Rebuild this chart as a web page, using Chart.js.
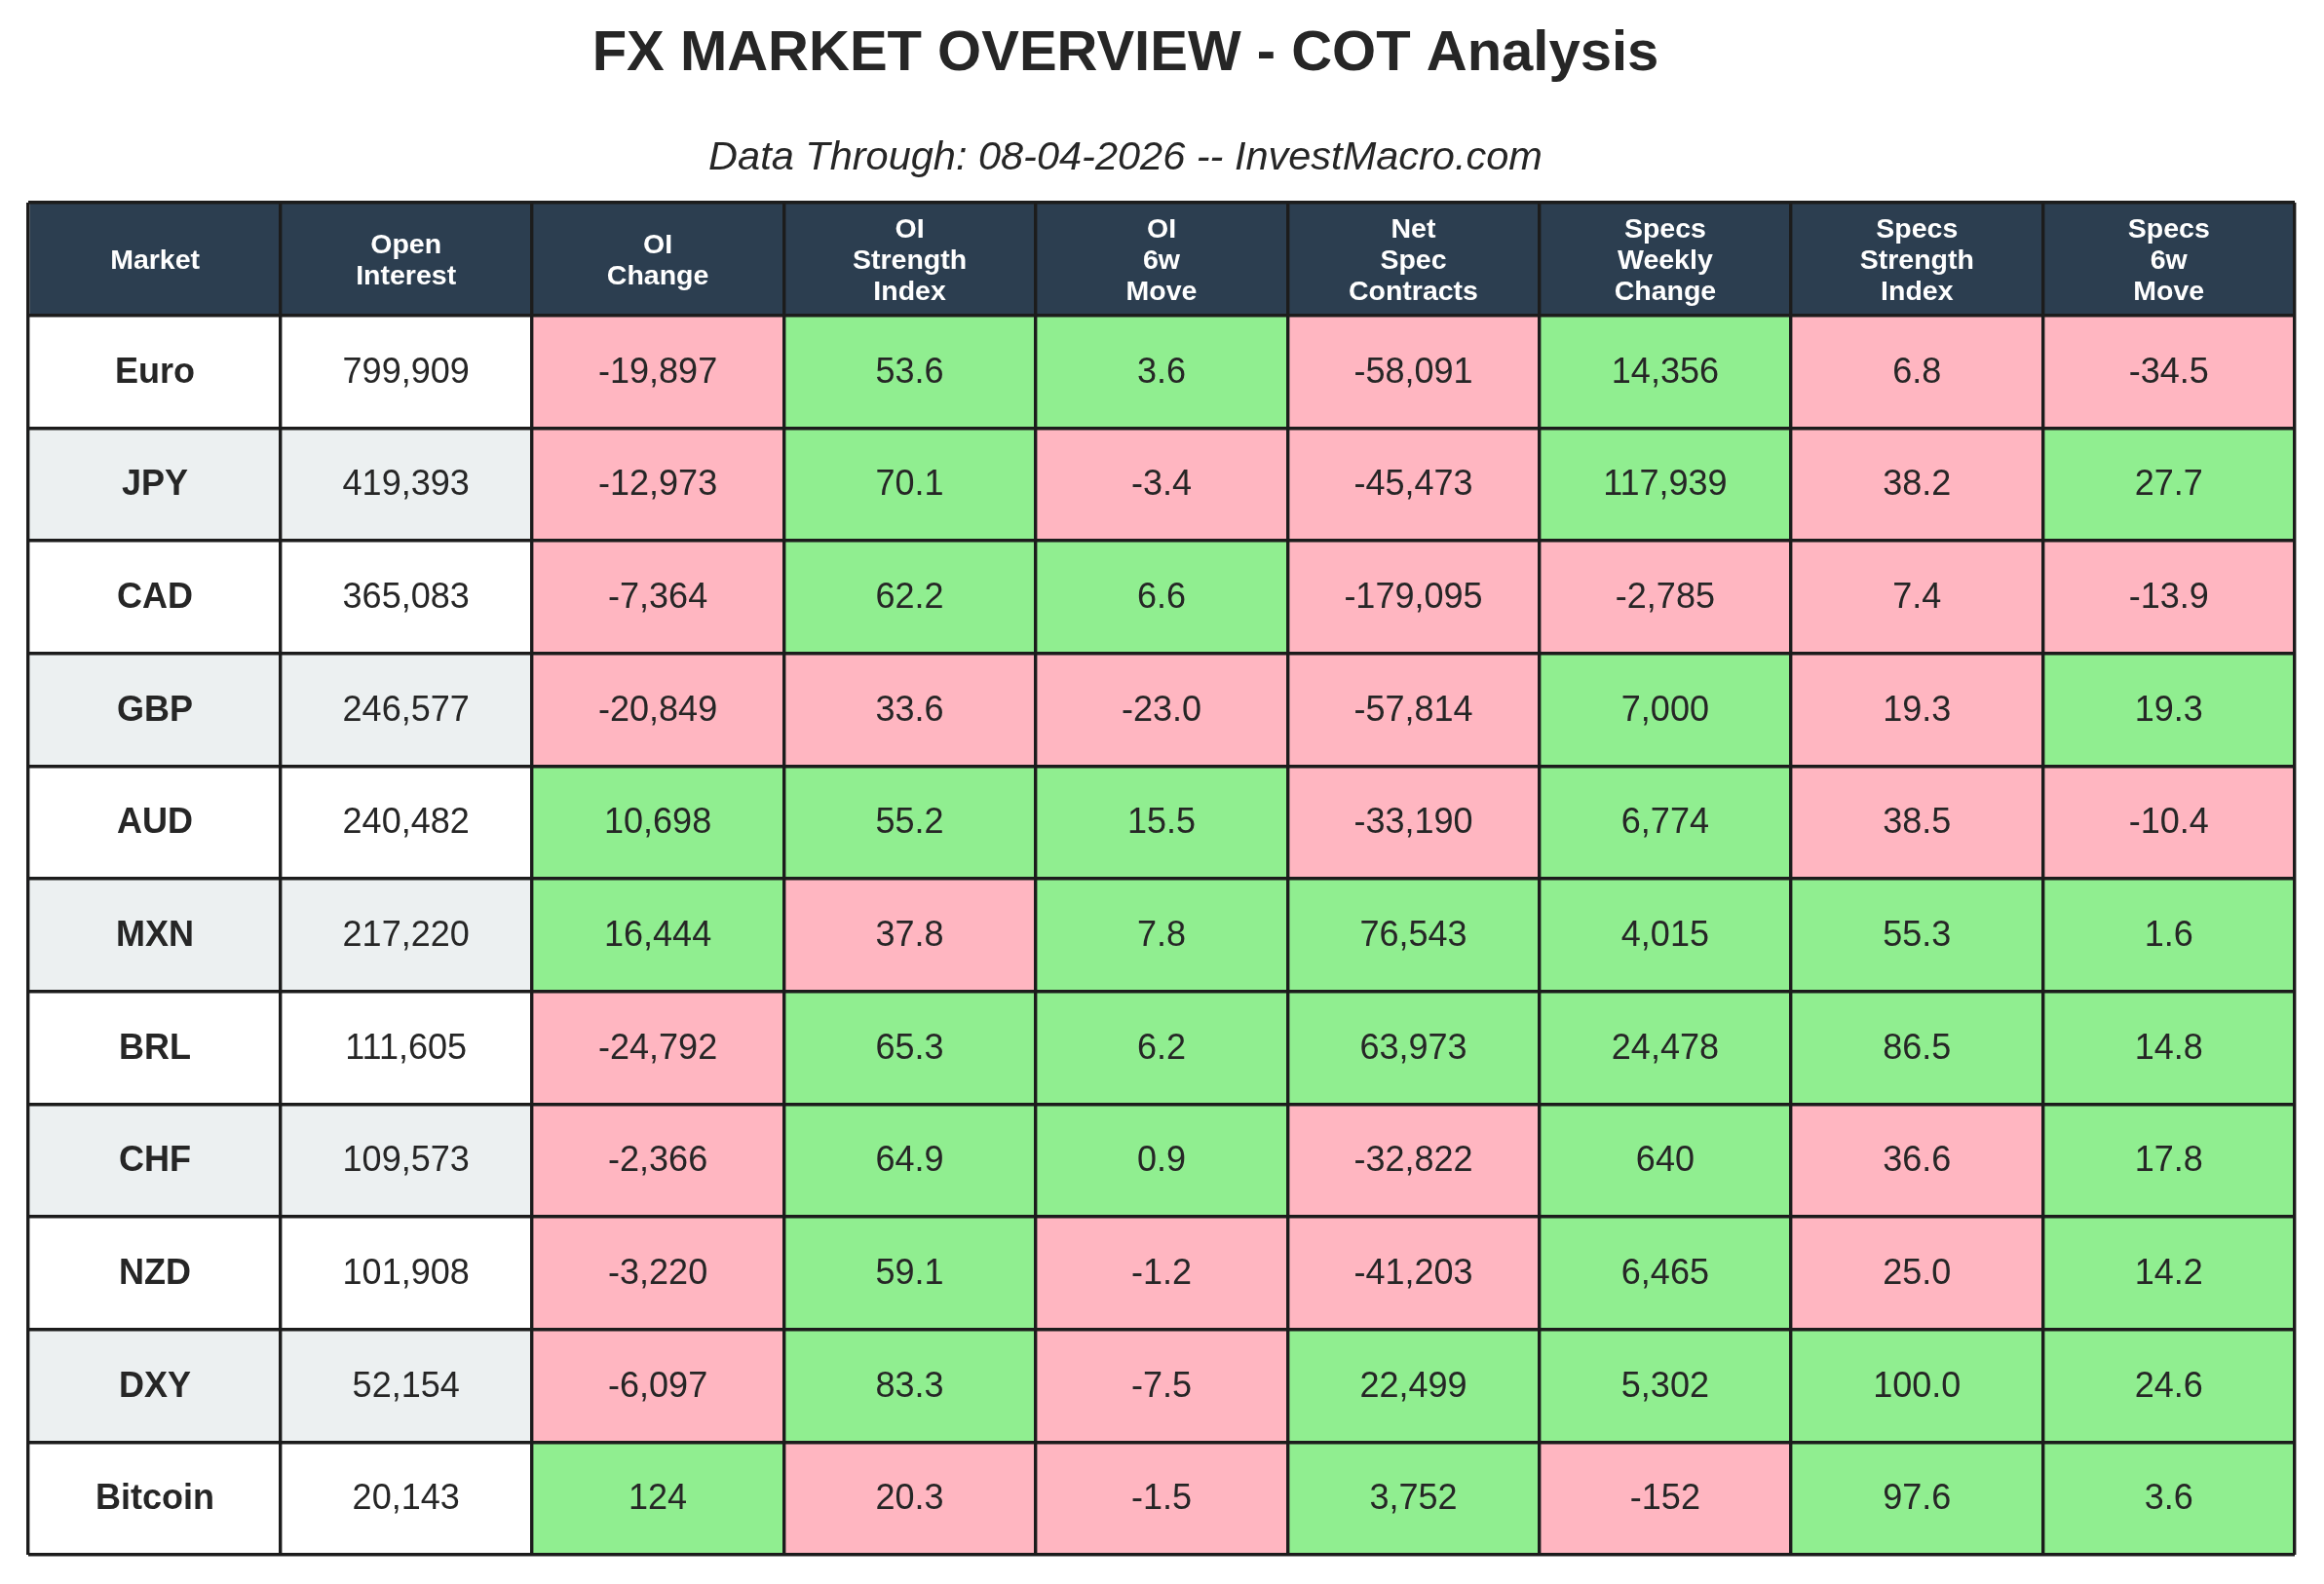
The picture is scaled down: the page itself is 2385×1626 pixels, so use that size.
<!DOCTYPE html>
<html>
<head>
<meta charset="utf-8">
<script src="https://cdn.jsdelivr.net/npm/chart.js@4.4.1/dist/chart.umd.min.js"></script>
<style>
  html, body { margin: 0; padding: 0; background: #ffffff; }
  #wrap { width: 2385px; height: 1626px; }
</style>
</head>
<body>
<div id="wrap"><canvas id="cotTable" width="2385" height="1626"></canvas></div>
<script>
// ---- data ----
const markets = ['Euro', 'JPY', 'CAD', 'GBP', 'AUD', 'MXN', 'BRL', 'CHF', 'NZD', 'DXY', 'Bitcoin'];
const headers = [
    ['Market'],
    ['Open', 'Interest'],
    ['OI', 'Change'],
    ['OI', 'Strength', 'Index'],
    ['OI', '6w', 'Move'],
    ['Net', 'Spec', 'Contracts'],
    ['Specs', 'Weekly', 'Change'],
    ['Specs', 'Strength', 'Index'],
    ['Specs', '6w', 'Move']
];
const openInterest = [799909, 419393, 365083, 246577, 240482, 217220, 111605, 109573, 101908, 52154, 20143];
const oiChange = [-19897, -12973, -7364, -20849, 10698, 16444, -24792, -2366, -3220, -6097, 124];
const oiStrength = [53.6, 70.1, 62.2, 33.6, 55.2, 37.8, 65.3, 64.9, 59.1, 83.3, 20.3];
const oiMove6w = [3.6, -3.4, 6.6, -23.0, 15.5, 7.8, 6.2, 0.9, -1.2, -7.5, -1.5];
const netSpec = [-58091, -45473, -179095, -57814, -33190, 76543, 63973, -32822, -41203, 22499, 3752];
const specsWeekly = [14356, 117939, -2785, 7000, 6774, 4015, 24478, 640, 6465, 5302, -152];
const specsStrength = [6.8, 38.2, 7.4, 19.3, 38.5, 55.3, 86.5, 36.6, 25.0, 100.0, 97.6];
const specsMove6w = [-34.5, 27.7, -13.9, 19.3, -10.4, 1.6, 14.8, 17.8, 14.2, 24.6, 3.6];

const titleText = 'FX MARKET OVERVIEW - COT Analysis';
const subtitleText = 'Data Through: 08-04-2026 -- InvestMacro.com';

// ---- styling ----
const HEADER_BG = '#2c3e50';
const ROW_BG = ['#ffffff', '#ecf0f1'];
const GOOD = '#90ee90';
const BAD = '#ffb6c1';
const LINE = '#1c1c1c';
const TEXT = '#262626';
const FONT = '"Liberation Sans", Arial, sans-serif';

// kind: how a column is written and coloured
const columns = [
    { values: markets, kind: 'name' },
    { values: openInterest, kind: 'plain' },
    { values: oiChange, kind: 'sign', fmt: 'int' },
    { values: oiStrength, kind: 'index', fmt: 'dec' },
    { values: oiMove6w, kind: 'sign', fmt: 'dec' },
    { values: netSpec, kind: 'sign', fmt: 'int' },
    { values: specsWeekly, kind: 'sign', fmt: 'int' },
    { values: specsStrength, kind: 'index', fmt: 'dec' },
    { values: specsMove6w, kind: 'sign', fmt: 'dec' }
];

function formatCell(col, v) {
    if (col.kind === 'name') return v;
    if (col.kind === 'plain' || col.fmt === 'int') return v.toLocaleString('en-US');
    return v.toFixed(1);
}

function cellColor(col, v, rowIdx) {
    if (col.kind === 'name' || col.kind === 'plain') return ROW_BG[rowIdx % 2];
    if (col.kind === 'index') return v >= 50 ? GOOD : BAD;
    return v >= 0 ? GOOD : BAD;
}

const rowLabels = ['header'].concat(markets);

// one stacked dataset per table column, each cell is one unit wide
const datasets = columns.map((col, c) => ({
    label: headers[c].join(' '),
    data: rowLabels.map(() => 1),
    backgroundColor: rowLabels.map((r, i) => i === 0 ? HEADER_BG : cellColor(col, col.values[i - 1], i - 1)),
    borderWidth: 0,
    categoryPercentage: 1,
    barPercentage: 1
}));

const cellText = {
    id: 'cellText',
    afterDraw(chart) {
        const ctx = chart.ctx;
        ctx.save();
        ctx.textAlign = 'center';
        ctx.textBaseline = 'alphabetic';
        chart.data.datasets.forEach((ds, c) => {
            const meta = chart.getDatasetMeta(c);
            const col = columns[c];
            meta.data.forEach((bar, i) => {
                const cx = (bar.x + bar.base) / 2;
                const cy = bar.y;
                if (i === 0) {
                    const lines = headers[c];
                    ctx.fillStyle = '#ffffff';
                    ctx.font = 'bold 28.5px ' + FONT;
                    const step = 32;
                    const start = cy - (lines.length - 1) * step / 2;
                    lines.forEach((t, k) => ctx.fillText(t, cx, start + k * step + 10));
                } else {
                    const v = col.values[i - 1];
                    ctx.fillStyle = TEXT;
                    ctx.font = (col.kind === 'name' ? 'bold ' : '') + '36px ' + FONT;
                    ctx.fillText(formatCell(col, v), cx, cy + 11);
                }
            });
        });

        // heading above the table
        ctx.fillStyle = TEXT;
        ctx.font = 'bold 58px ' + FONT;
        ctx.fillText(titleText, 1155, 72);
        ctx.font = 'italic 41.5px ' + FONT;
        ctx.fillText(subtitleText, 1155, 174);
        ctx.restore();
    }
};

const tableChart = new Chart(document.getElementById('cotTable').getContext('2d'), {
    type: 'bar',
    data: {
        labels: rowLabels,
        datasets: datasets
    },
    options: {
        indexAxis: 'y',
        responsive: false,
        devicePixelRatio: 1,
        animation: false,
        layout: {
            padding: { left: 29, right: 30, top: 208, bottom: 30 }
        },
        plugins: {
            legend: { display: false },
            tooltip: { enabled: false },
            title: { display: false }
        },
        scales: {
            x: {
                type: 'linear',
                stacked: true,
                min: 0,
                max: columns.length,
                ticks: { display: false, stepSize: 1 },
                grid: { color: LINE, lineWidth: 3.4, drawTicks: false, z: 1 },
                border: { display: false }
            },
            y: {
                stacked: true,
                offset: true,
                ticks: { display: false },
                grid: { color: LINE, lineWidth: 3.4, drawTicks: false, offset: true, z: 1 },
                border: { display: false }
            }
        }
    },
    plugins: [cellText]
});
</script>
</body>
</html>
